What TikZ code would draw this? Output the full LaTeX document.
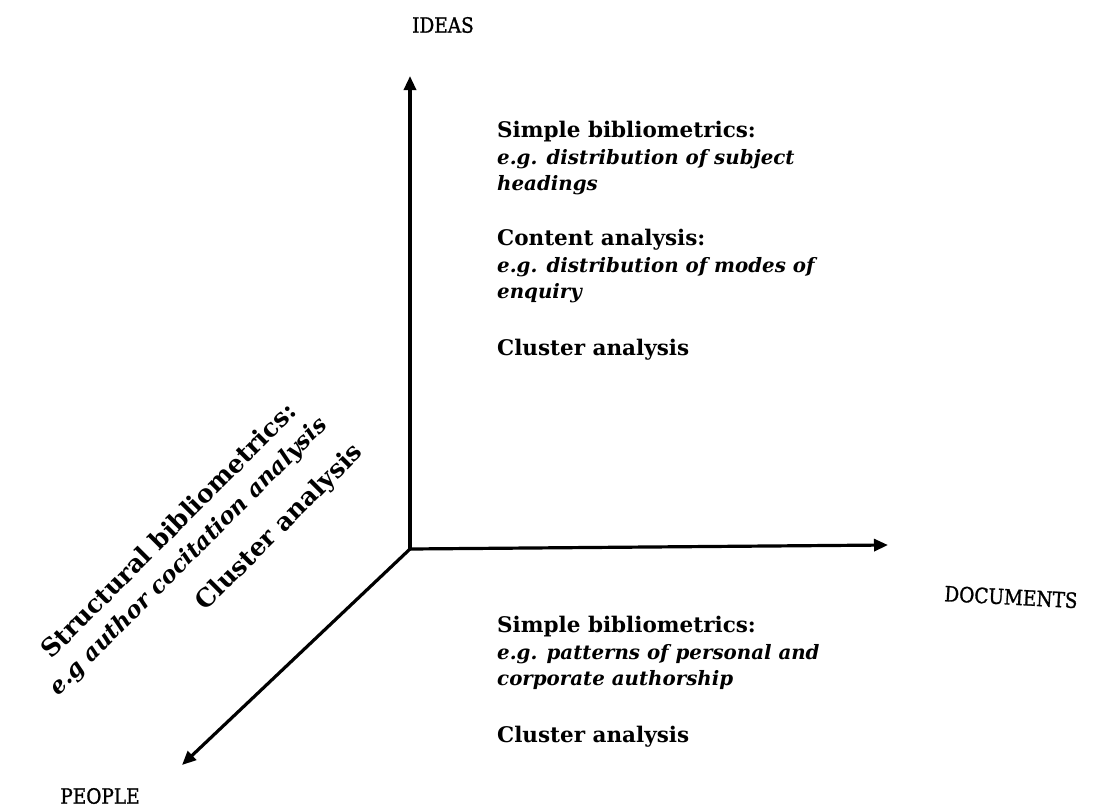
\documentclass[tikz,border=0pt]{standalone}
\usepackage{fontspec}
\setmainfont{DejaVu Serif}
\newfontfamily\heavyserif[FakeBold=1.2,FakeStretch=0.88]{DejaVu Serif}
\usetikzlibrary{arrows.meta}
\tikzset{
  axis/.style={line width=3.2pt,-{Triangle[length=14pt,width=12pt]}},
  axlbl/.style={inner sep=0pt,font=\fontsize{21}{22}\selectfont\heavyserif},
  head/.style={inner sep=0pt,anchor=base west,font=\fontsize{21.5}{24}\selectfont\bfseries},
  ital/.style={inner sep=0pt,anchor=base west,font=\fontsize{19.8}{24}\selectfont\bfseries\itshape},
  rothead/.style={inner sep=0pt,rotate=45,font=\fontsize{25}{28}\selectfont\bfseries},
  rotital/.style={inner sep=0pt,rotate=45,font=\fontsize{23}{28}\selectfont\bfseries\itshape},
}
\begin{document}
\begin{tikzpicture}[x=1pt,y=-1pt]
\useasboundingbox (0,0) rectangle (1111,809);
\coordinate (O) at (410,549);
\coordinate (Itip) at (410,76);
\coordinate (Dtip) at (888,545);
\coordinate (Ptip) at (182,765);
\draw[axis] (O) -- (Itip);
\draw[axis] (O) -- (Dtip);
\draw[axis] (O) -- (Ptip);
\node[axlbl] (ideas) at (443,25) {IDEAS};
\node[axlbl,rotate=-3] (docs) at (1011,597) {DOCUMENTS};
\node[axlbl] (people) at (100,796) {PEOPLE};
% ideas block
\node[head] (h1) at (497,137) {Simple bibliometrics:};
\node[ital] (i1a) at (497,164) {e.g. distribution of subject};
\node[ital] (i1b) at (497,190) {headings};
\node[head] (h2) at (497,245) {Content analysis:};
\node[ital] (i2a) at (497,272) {e.g. distribution of modes of};
\node[ital] (i2b) at (497,298) {enquiry};
\node[head] (c1) at (497,355) {Cluster analysis};
% documents block
\node[head] (h3) at (497,632) {Simple bibliometrics:};
\node[ital] (i3a) at (497,659) {e.g. patterns of personal and};
\node[ital] (i3b) at (497,685) {corporate authorship};
\node[head] (c2) at (497,742) {Cluster analysis};
% people block
\node[rothead] (h4) at (168,530) {Structural bibliometrics:};
\node[rotital] (i4) at (189,557) {e.g author cocitation analysis};
\node[rothead] (c3) at (280,528) {Cluster analysis};
\end{tikzpicture}
\end{document}
